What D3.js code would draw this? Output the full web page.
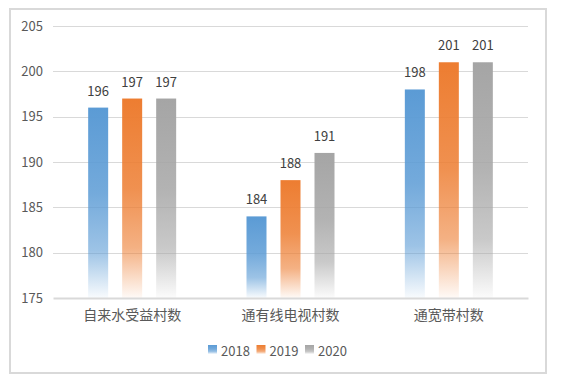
<!DOCTYPE html>
<html>
<head>
<meta charset="utf-8">
<script src="https://cdn.jsdelivr.net/npm/d3@7"></script>
<style>
  html, body { margin: 0; padding: 0; background: #fff; }
  svg { display: block; font-family: "Noto Sans CJK SC", "Noto Sans", sans-serif; }
</style>
</head>
<body>
<svg id="chart" width="565" height="378"></svg>
<script>
const categories = ["自来水受益村数", "通有线电视村数", "通宽带村数"]
const years = ["2018", "2019", "2020"]
const values2018 = [196, 184, 198]
const values2019 = [197, 188, 201]
const values2020 = [197, 191, 201]
const yTicks = [175, 180, 185, 190, 195, 200, 205]

const colors = { "2018": "#5b9bd5", "2019": "#ed7d31", "2020": "#a5a5a5" }
const series = years.map((year, i) => ({
  year,
  values: [values2018, values2019, values2020][i],
}))

const width = 565
const height = 378
const margin = { top: 26, right: 37, bottom: 80, left: 53 }
const innerWidth = width - margin.left - margin.right
const innerHeight = 298 - margin.top

const svg = d3.select("#chart")

// chart frame
svg.append("rect")
  .attr("x", 10).attr("y", 9)
  .attr("width", 536).attr("height", 364)
  .attr("fill", "#fff")
  .attr("stroke", "#d9d9d9")
  .attr("stroke-width", 2)

// gradients per series
const defs = svg.append("defs")
series.forEach((s) => {
  const grad = defs.append("linearGradient")
    .attr("id", `grad-${s.year}`)
    .attr("x1", 0).attr("y1", 0).attr("x2", 0).attr("y2", 1)
  const stops = [[0, 1], [0.45, 0.85], [0.75, 0.6], [1, 0.04]]
  stops.forEach(([offset, opacity]) => {
    grad.append("stop")
      .attr("offset", offset)
      .attr("stop-color", colors[s.year])
      .attr("stop-opacity", opacity)
  })
})

const x = d3.scaleBand()
  .domain(categories)
  .range([0, innerWidth])

const barWidth = 20
const barStep = 34
const groupWidth = barStep * 2 + barWidth
const x1 = d3.scaleBand()
  .domain(years)
  .range([0, groupWidth])
  .paddingInner((barStep - barWidth) / barStep)
  .paddingOuter(0)

const y = d3.scaleLinear()
  .domain([175, 205])
  .range([innerHeight, 0])

const g = svg.append("g").attr("transform", `translate(${margin.left},${margin.top})`)

// gridlines
g.append("g")
  .selectAll("line")
  .data(yTicks.filter((t) => t !== 175))
  .join("line")
  .attr("x1", 0)
  .attr("x2", innerWidth)
  .attr("y1", (d) => Math.round(y(d)) + 0.5)
  .attr("y2", (d) => Math.round(y(d)) + 0.5)
  .attr("stroke", "#d9d9d9")
  .attr("stroke-width", 1)

// y axis labels
g.append("g")
  .call(d3.axisLeft(y).tickValues(yTicks).tickSize(0).tickPadding(10))
  .call((axis) => axis.select(".domain").remove())
  .call((axis) => axis.selectAll("text")
    .attr("fill", "#595959")
    .style("font-size", "13px")
    .style("font-family", "'Noto Sans CJK SC', sans-serif"))

// bars
const groups = g.append("g")
  .selectAll("g")
  .data(categories)
  .join("g")
  .attr("transform", (c) => `translate(${x(c) + x.bandwidth() / 2 - groupWidth / 2},0)`)

groups.selectAll("rect")
  .data((c, ci) => series.map((s) => ({ year: s.year, value: s.values[ci] })))
  .join("rect")
  .attr("x", (d) => x1(d.year))
  .attr("y", (d) => y(d.value))
  .attr("width", x1.bandwidth())
  .attr("height", (d) => innerHeight - y(d.value))
  .attr("fill", (d) => `url(#grad-${d.year})`)

groups.selectAll("text")
  .data((c, ci) => series.map((s) => ({ year: s.year, value: s.values[ci] })))
  .join("text")
  .attr("x", (d) => x1(d.year) + x1.bandwidth() / 2)
  .attr("y", (d) => y(d.value) - 12)
  .attr("text-anchor", "middle")
  .attr("fill", "#404040")
  .style("font-size", "13px")
  .text((d) => d.value)

// x axis
g.append("g")
  .attr("transform", `translate(0,${innerHeight})`)
  .call(d3.axisBottom(x).tickSize(0).tickPadding(12))
  .call((axis) => axis.select(".domain").attr("stroke", "#d9d9d9").attr("stroke-width", 2))
  .call((axis) => axis.selectAll("text")
    .attr("fill", "#595959")
    .style("font-size", "14px")
    .style("font-family", "'Noto Sans CJK SC', sans-serif"))

// legend
const legend = svg.append("g").attr("transform", "translate(208,350)")
const legendItems = legend.selectAll("g")
  .data(years)
  .join("g")
  .attr("transform", (d, i) => `translate(${i * 48.5},0)`)

legendItems.append("rect")
  .attr("x", 0).attr("y", -5)
  .attr("width", 9).attr("height", 9)
  .attr("fill", (d) => `url(#grad-${d})`)

legendItems.append("text")
  .attr("x", 13)
  .attr("y", 0)
  .attr("dominant-baseline", "central")
  .attr("fill", "#595959")
  .style("font-size", "13px")
  .text((d) => d)
</script>
</body>
</html>
